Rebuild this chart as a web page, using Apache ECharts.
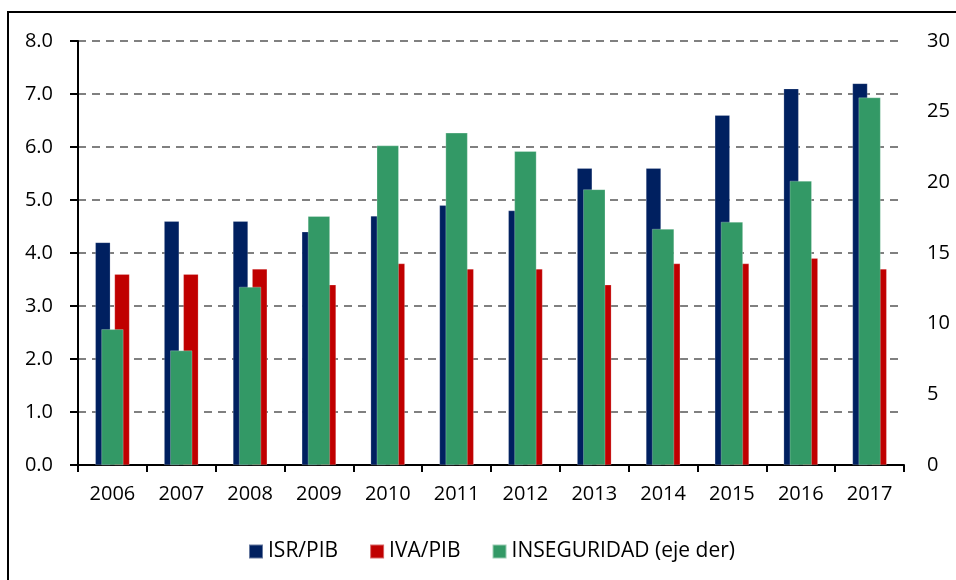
<!DOCTYPE html>
<html>
<head>
<meta charset="utf-8">
<script src="https://cdn.jsdelivr.net/npm/echarts@6/dist/echarts.min.js"></script>
<style>
  html, body { margin: 0; padding: 0; background: #fff; }
  #chart { width: 956px; height: 580px; }
</style>
</head>
<body>
<div id="chart"></div>
<script>
const years = ['2006', '2007', '2008', '2009', '2010', '2011', '2012', '2013', '2014', '2015', '2016', '2017'];
const isrPib = [4.2, 4.6, 4.6, 4.4, 4.7, 4.9, 4.8, 5.6, 5.6, 6.6, 7.1, 7.2];
const ivaPib = [3.6, 3.6, 3.7, 3.4, 3.8, 3.7, 3.7, 3.4, 3.8, 3.8, 3.9, 3.7];
const inseguridad = [9.6, 8.1, 12.6, 17.6, 22.6, 23.5, 22.2, 19.5, 16.7, 17.2, 20.1, 26.0];

const fontFamily = '"Open Sans", "Noto Sans", sans-serif';

const chart = echarts.init(document.getElementById('chart'));
const option = {
  animation: false,
  textStyle: { fontFamily: fontFamily, color: '#000' },
  graphic: [
    {
      type: 'rect',
      shape: { x: 8, y: 12, width: 1200, height: 1000 },
      style: { fill: 'none', stroke: '#000', lineWidth: 2 }
    }
  ],
  grid: {
    left: 78,
    right: 52,
    top: 41,
    bottom: 115
  },
  legend: {
    top: 536,
    left: 243,
    itemWidth: 14,
    itemHeight: 14,
    itemGap: 31,
    icon: 'rect',
    textStyle: { fontSize: 21, color: '#000', fontFamily: fontFamily },
    data: ['ISR/PIB', 'IVA/PIB', 'INSEGURIDAD (eje der)']
  },
  xAxis: [
    {
      type: 'category',
      data: years,
      axisLine: { lineStyle: { color: '#000', width: 2 } },
      axisTick: { show: true, length: 7, lineStyle: { color: '#000', width: 2 } },
      axisLabel: { fontSize: 20, color: '#000', margin: 19 },
      splitLine: { show: false }
    },
    {
      type: 'category',
      data: years,
      show: false
    }
  ],
  yAxis: [
    {
      type: 'value',
      min: 0,
      max: 8,
      interval: 1,
      axisLine: { show: true, lineStyle: { color: '#000', width: 2 } },
      axisTick: { show: true, length: 8, lineStyle: { color: '#000', width: 2 } },
      axisLabel: {
        fontSize: 20,
        color: '#000',
        margin: 25,
        formatter: function (v) { return v.toFixed(1); }
      },
      splitLine: {
        show: true,
        lineStyle: { color: '#808080', type: [8, 6], width: 2 }
      }
    },
    {
      type: 'value',
      min: 0,
      max: 30,
      interval: 5,
      position: 'right',
      axisLine: { show: false },
      axisTick: { show: false },
      axisLabel: { fontSize: 20, color: '#000', margin: 23 },
      splitLine: { show: false }
    }
  ],
  series: [
    {
      name: 'ISR/PIB',
      type: 'bar',
      xAxisIndex: 0,
      yAxisIndex: 0,
      data: isrPib,
      barWidth: 15,
      barGap: '28%',
      itemStyle: { color: '#002060', borderColor: 'rgba(255,255,255,0.4)', borderWidth: 0.5 }
    },
    {
      name: 'IVA/PIB',
      type: 'bar',
      xAxisIndex: 0,
      yAxisIndex: 0,
      data: ivaPib,
      barWidth: 15,
      itemStyle: { color: '#C00000', borderColor: 'rgba(255,255,255,0.4)', borderWidth: 0.5 }
    },
    {
      name: 'INSEGURIDAD (eje der)',
      type: 'bar',
      xAxisIndex: 1,
      yAxisIndex: 1,
      data: inseguridad,
      barWidth: 22,
      z: 5,
      itemStyle: { color: '#339966', borderColor: 'rgba(255,255,255,0.5)', borderWidth: 0.5 }
    }
  ]
};

option && chart.setOption(option);
</script>
</body>
</html>
